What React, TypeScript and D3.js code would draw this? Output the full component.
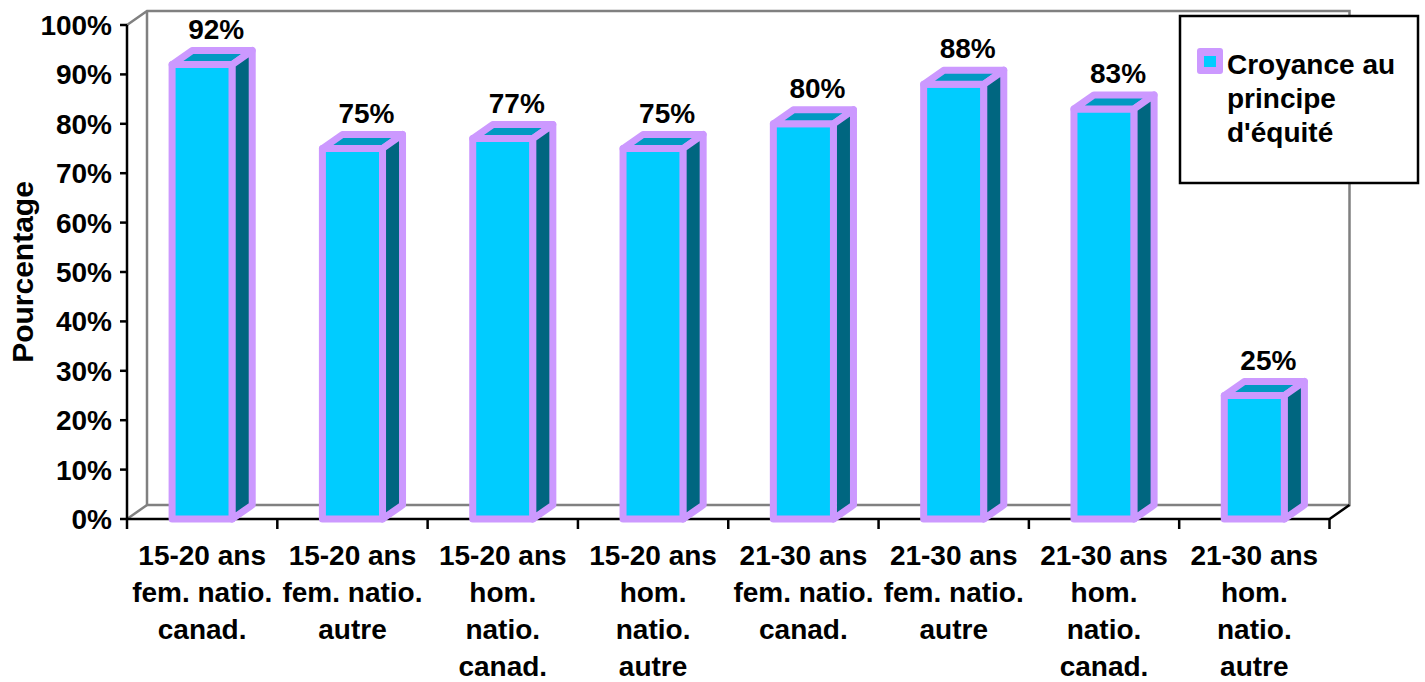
import { useEffect, useRef } from 'react';
import * as d3 from 'd3';

// données
const categories = [
  '15-20 ans fem. natio. canad.',
  '15-20 ans fem. natio. autre',
  '15-20 ans hom. natio. canad.',
  '15-20 ans hom. natio. autre',
  '21-30 ans fem. natio. canad.',
  '21-30 ans fem. natio. autre',
  '21-30 ans hom. natio. canad.',
  '21-30 ans hom. natio. autre',
];
const categoryLines = [
  ['15-20 ans', 'fem. natio.', 'canad.'],
  ['15-20 ans', 'fem. natio.', 'autre'],
  ['15-20 ans', 'hom.', 'natio.', 'canad.'],
  ['15-20 ans', 'hom.', 'natio.', 'autre'],
  ['21-30 ans', 'fem. natio.', 'canad.'],
  ['21-30 ans', 'fem. natio.', 'autre'],
  ['21-30 ans', 'hom.', 'natio.', 'canad.'],
  ['21-30 ans', 'hom.', 'natio.', 'autre'],
];
const values = [92, 75, 77, 75, 80, 88, 83, 25];
const yTicks = [0, 10, 20, 30, 40, 50, 60, 70, 80, 90, 100];
const seriesName = ['Croyance au', 'principe', "d'équité"];
const yTitle = 'Pourcentage';

const W = 1425;
const H = 682;
const FONT = '"Liberation Sans", Arial, sans-serif';
const FS = 28;

export default function App() {
  const svgRef = useRef<SVGSVGElement>(null);

  useEffect(() => {
    if (!svgRef.current) return;
    const svg = d3.select(svgRef.current);
    svg.selectAll('*').remove();
    svg.attr('font-family', FONT).attr('font-weight', 'bold').attr('font-size', FS);

    // repère 3D
    const left = 127;
    const right = 1329.5;
    const bottom = 519;
    const top = 25;
    const dx = 20;
    const dy = -14;

    const x = d3.scaleBand<string>().domain(categories).range([left, right]).padding(0);
    const y = d3.scaleLinear().domain([0, 100]).range([bottom, top]);

    const front = '#00CCFF';
    const topC = '#0099C2';
    const side = '#006680';
    const edge = '#CC99FF';

    // murs du fond (gris)
    const wall = svg.append('g').attr('stroke', '#808080').attr('stroke-width', 2.5).attr('fill', 'none');
    wall
      .append('path')
      .attr(
        'd',
        `M${left},${y(100)}L${left + dx},${y(100) + dy}L${right + dx},${y(100) + dy}L${right + dx},${bottom + dy}L${left + dx},${bottom + dy}L${left + dx},${y(100) + dy}`
      );
    wall.append('path').attr('d', `M${left},${bottom}L${left + dx},${bottom + dy}`);

    // axe Y
    const axis = svg.append('g').attr('stroke', '#000').attr('stroke-width', 2.5).attr('fill', 'none');
    axis.append('line').attr('x1', left).attr('x2', left).attr('y1', y(100)).attr('y2', bottom + 10);
    yTicks.forEach((t) => {
      axis.append('line').attr('x1', left - 7).attr('x2', left).attr('y1', y(t)).attr('y2', y(t));
    });
    // sol avant
    axis.append('path').attr('d', `M${left},${bottom}L${right},${bottom}L${right + dx},${bottom + dy}`);
    categories.forEach((c) => {
      const xx = (x(c) ?? 0) + x.bandwidth();
      axis.append('line').attr('x1', xx).attr('x2', xx).attr('y1', bottom).attr('y2', bottom + 10);
    });

    svg
      .append('g')
      .selectAll('text')
      .data(yTicks)
      .join('text')
      .attr('x', left - 15)
      .attr('y', (d) => y(d) + 10)
      .attr('text-anchor', 'end')
      .text((d) => `${d}%`);

    // titre axe Y
    svg
      .append('text')
      .attr('transform', `translate(33,272) rotate(-90)`)
      .attr('text-anchor', 'middle')
      .attr('font-size', 30)
      .text(yTitle);

    // barres 3D
    const barW = x.bandwidth() * 0.4;
    const bars = svg
      .append('g')
      .attr('stroke', edge)
      .attr('stroke-width', 7)
      .attr('stroke-linejoin', 'round')
      .selectAll('g')
      .data(values)
      .join('g');

    bars.each(function (v, i) {
      const g = d3.select(this);
      const x0 = (x(categories[i]) ?? 0) + (x.bandwidth() - barW) / 2;
      const x1 = x0 + barW;
      const yt = y(v);
      g.append('path')
        .attr('fill', front)
        .attr('d', `M${x0},${bottom}L${x0},${yt}L${x1},${yt}L${x1},${bottom}Z`);
      g.append('path')
        .attr('fill', topC)
        .attr('d', `M${x0},${yt}L${x0 + dx},${yt + dy}L${x1 + dx},${yt + dy}L${x1},${yt}Z`);
      g.append('path')
        .attr('fill', side)
        .attr('d', `M${x1},${bottom}L${x1},${yt}L${x1 + dx},${yt + dy}L${x1 + dx},${bottom + dy}Z`);
    });

    // étiquettes de valeurs
    svg
      .append('g')
      .selectAll('text')
      .data(values)
      .join('text')
      .attr('x', (d, i) => (x(categories[i]) ?? 0) + x.bandwidth() / 2 + 14)
      .attr('y', (d) => y(d) + dy - 12)
      .attr('text-anchor', 'middle')
      .text((d) => `${d}%`);

    // étiquettes de catégories
    const cat = svg
      .append('g')
      .selectAll('text')
      .data(categoryLines)
      .join('text')
      .attr('text-anchor', 'middle');
    cat.each(function (lines, i) {
      const cx = (x(categories[i]) ?? 0) + x.bandwidth() / 2;
      d3.select(this)
        .selectAll('tspan')
        .data(lines)
        .join('tspan')
        .attr('x', cx)
        .attr('y', (d, j) => 565 + j * 37)
        .text((d) => d);
    });

    // légende
    const legend = svg.append('g');
    legend
      .append('rect')
      .attr('x', 1180)
      .attr('y', 16)
      .attr('width', 238)
      .attr('height', 167)
      .attr('fill', '#fff')
      .attr('stroke', '#000')
      .attr('stroke-width', 2.5);
    legend
      .append('rect')
      .attr('x', 1197)
      .attr('y', 48)
      .attr('width', 26)
      .attr('height', 26)
      .attr('rx', 3)
      .attr('fill', edge);
    legend
      .append('rect')
      .attr('x', 1204)
      .attr('y', 56)
      .attr('width', 12)
      .attr('height', 11)
      .attr('fill', front);
    legend
      .append('text')
      .selectAll('tspan')
      .data(seriesName)
      .join('tspan')
      .attr('x', 1227)
      .attr('y', (d, j) => 74 + j * 34)
      .text((d) => d);
  }, []);

  return (
    <svg
      ref={svgRef}
      width={W}
      height={H}
      style={{ position: 'absolute', left: 0, top: 0, background: '#fff' }}
    />
  );
}
